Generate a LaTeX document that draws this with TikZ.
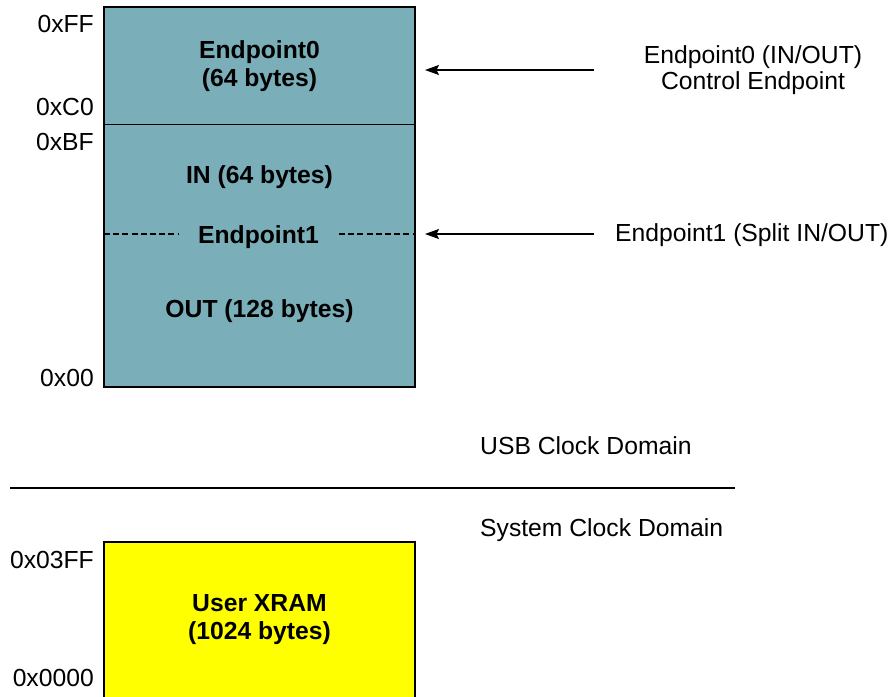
\documentclass[tikz,border=0pt]{standalone}
\usepackage{fontspec}
\setmainfont{Liberation Sans}
\usetikzlibrary{arrows.meta,positioning}
\definecolor{epteal}{RGB}{122,174,184}
\definecolor{xramgeel}{RGB}{255,255,0}
\tikzset{
    % Define style for memory blocks
    blok/.style={
           rectangle,
           draw=black, line width=1.2pt,
           inner sep=0pt, outer sep=0pt,
           minimum width=311pt,
           align=center,
           font=\bfseries\fontsize{24.7pt}{28pt}\selectfont},
    % Define style for text inside a block
    veld/.style={
           inner sep=0pt,
           anchor=base,
           font=\bfseries\fontsize{24.7pt}{28pt}\selectfont},
    % Define style for address labels
    adr/.style={
           inner sep=0pt,
           anchor=base east,
           font=\fontsize{24.7pt}{28pt}\selectfont},
    % Define style for plain text
    tekst/.style={
           inner sep=0pt,
           align=center,
           font=\fontsize{24.7pt}{26.7pt}\selectfont},
    % Define arrow style
    pil/.style={
           -{Stealth[length=14pt,width=10pt,inset=2.5pt]},
           line width=1.2pt},
    % Define dashed split line
    streg/.style={
           line width=1.5pt,
           dash pattern=on 6pt off 3.2pt}
}
\newcommand*{\adrnode}[3]{\node[adr] (#1) at (94,#2) {#3};}

\begin{document}
\begin{tikzpicture}[x=1pt,y=-1pt]
\useasboundingbox (0,0) rectangle (894,696);
% First the memory blocks
\node[blok, fill=epteal, minimum height=117.5pt] (ep0) at (259.5,65.75) {Endpoint0\\(64 bytes)};
\node[blok, fill=epteal, minimum height=262.5pt, below=0pt of ep0] (ep1) {};
\node[blok, fill=xramgeel, minimum height=156pt] (xram) at (259.5,620) {User XRAM\\(1024 bytes)};

% Texts inside the Endpoint1 block
\node[veld] (in1) at (259.5,183) {IN (64 bytes)};
\node[veld, inner xsep=20pt] (ep1lbl) at (258.5,243.3) {Endpoint1};
\node[veld] (out1) at (259.5,317.5) {OUT (128 bytes)};
\coordinate (split) at (259.5,234);

% Address labels
\adrnode{aFF}{32}{0xFF}
\adrnode{aC0}{115}{0xC0}
\adrnode{aBF}{150.7}{0xBF}
\adrnode{a00}{386.7}{0x00}
\adrnode{a3FF}{568}{0x03FF}
\adrnode{a0000}{686.5}{0x0000}

% Notes on the right
\node[tekst] (ep0note) at (753,70) {Endpoint0 (IN/OUT)\\Control Endpoint};
\node[tekst, anchor=base west] (ep1note) at (615,241.7) {Endpoint1 (Split IN/OUT)};

% Clock domains
\node[tekst, anchor=base west] (usb) at (480,454.3) {USB Clock Domain};
\node[tekst, anchor=base west] (sys) at (480,536.5) {System Clock Domain};
\coordinate (grensL) at (10,488);
\coordinate (grensR) at (735,488);

% Now connect the nodes
\draw[streg] (ep1.west |- split) -- (ep1lbl.west |- split);
\draw[streg] (ep1lbl.east |- split) -- (ep1.east |- split);
\draw[pil, shorten <=50pt, shorten >=10pt] (ep0note.west) -- (ep0.east |- ep0note.west);
\draw[pil, shorten <=21pt, shorten >=10pt] (ep1note.west |- split) -- (ep1.east |- split);
\draw[line width=1.2pt] (grensL) -- (grensR);
\end{tikzpicture}
\end{document}
